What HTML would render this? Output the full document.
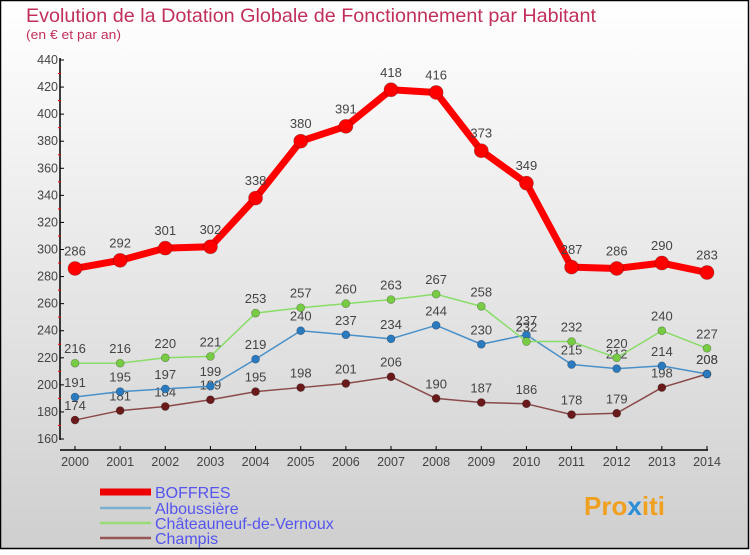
<!DOCTYPE html>
<html><head><meta charset="utf-8">
<style>
html,body{margin:0;padding:0;}
body{width:750px;height:550px;overflow:hidden;font-family:"Liberation Sans",sans-serif;}
</style></head>
<body>
<svg id="chart" width="750" height="550" xmlns="http://www.w3.org/2000/svg">
<defs>
<linearGradient id="bg" x1="0" y1="0" x2="0" y2="1">
<stop offset="0" stop-color="#ffffff"/><stop offset="1" stop-color="#cfcfcf"/>
</linearGradient>
</defs>
<rect x="0.5" y="0.5" width="748" height="548" fill="url(#bg)" stroke="#000" stroke-width="1.5"/>
<text x="26" y="22" font-size="19.5" fill="#c0305a" textLength="570" lengthAdjust="spacingAndGlyphs">Evolution de la Dotation Globale de Fonctionnement par Habitant</text>
<text x="26" y="39" font-size="12.5" fill="#c0305a" textLength="95" lengthAdjust="spacingAndGlyphs">(en € et par an)</text>
<g id="axes"></g>
<g id="series"></g>
<g id="legend"></g>
<text x="584" y="515" font-size="26" font-weight="bold" fill="#f0a020">Pro<tspan fill="#2a8fd8">x</tspan>iti</text>
</svg>
<script>
const years = [2000,2001,2002,2003,2004,2005,2006,2007,2008,2009,2010,2011,2012,2013,2014];
const yTicks = [160,180,200,220,240,260,280,300,320,340,360,380,400,420,440];
const boffres = [286,292,301,302,338,380,391,418,416,373,349,287,286,290,283];
const alboussiere = [191,195,197,199,219,240,237,234,244,230,237,215,212,214,208];
const chateauneuf = [216,216,220,221,253,257,260,263,267,258,232,232,220,240,227];
const champis = [174,181,184,189,195,198,201,206,190,187,186,178,179,198,208];
const seriesNames = ["BOFFRES","Alboussière","Châteauneuf-de-Vernoux","Champis"];

const NS="http://www.w3.org/2000/svg";
const x = i => 75 + i*(707-75)/(years.length-1);
const y = v => 439 - (v-160)*(439-60)/(440-160);
function mk(tag, attrs, parent){const e=document.createElementNS(NS,tag);for(const k in attrs)e.setAttribute(k,attrs[k]);parent.appendChild(e);return e;}
const axes=document.getElementById('axes');
const yAxis=mk('line',{x1:60,y1:58,x2:60,y2:440,stroke:'#000','stroke-width':1.5},axes);


yTicks.forEach((t,i)=>{
  mk('line',{x1:60,y1:y(t),x2:64,y2:y(t),stroke:'#000'},axes);
  if(i<yTicks.length-1) mk('line',{x1:58,y1:y(t+10),x2:61,y2:y(t+10),stroke:'#f00'},axes);
  const tx=mk('text',{x:58,y:y(t)+4,'font-size':12.5,fill:'#444','text-anchor':'end'},axes);
  tx.textContent=t;
  
  
});
const xAxis=mk('line',{x1:60,y1:450,x2:708,y2:450,stroke:'#000','stroke-width':1.5},axes);


years.forEach((yr,i)=>{
  mk('line',{x1:x(i),y1:446,x2:x(i),y2:450,stroke:'#000'},axes);
  const tx=mk('text',{x:x(i),y:466,'font-size':12.5,fill:'#444','text-anchor':'middle'},axes);
  tx.textContent=yr;
  
  
});
const sg=document.getElementById('series');
const defs=[
  {d:champis,c:'#8a4a4a',m:'#6a1a1a',w:1.5,r:4,key:'champis'},
  {d:alboussiere,c:'#4a90c8',m:'#2a7ac0',w:1.5,r:4,key:'alboussiere'},
  {d:chateauneuf,c:'#88dd66',m:'#77cc44',w:1.5,r:4,key:'chateauneuf'},
  {d:boffres,c:'#ff0000',m:'#ff0000',w:7,r:7,key:'boffres'}
];
defs.forEach(s=>{
  const g=mk('g',{},sg);
  
  
  const pl=mk('polyline',{points:s.d.map((v,i)=>x(i)+','+y(v)).join(' '),fill:'none',stroke:s.c,'stroke-width':s.w,'stroke-linejoin':'round'},g);
  
  
  s.d.forEach((v,i)=>{
    const c=mk('circle',{cx:x(i),cy:y(v),r:s.r,fill:s.m,stroke:'rgba(0,0,0,0.3)','stroke-width':0.7},g);
    
    
    const t=mk('text',{x:x(i),y:y(v)-(s.r+6),'font-size':13,fill:'#444','text-anchor':'middle'},g);
    t.textContent=v;
    
    
  });
});
const lg=document.getElementById('legend');
const legCols=['#ee0000','#7ab0d0','#99dd77','#995555'];
const legW=[7,2.5,2.5,2.5];
const legY=[492,508,523,538];
const legLen=[67,52,180,62];
seriesNames.forEach((n,i)=>{
  const g=mk('g',{},lg);
  
  
  mk('line',{x1:100,y1:legY[i],x2:151,y2:legY[i],stroke:legCols[i],'stroke-width':legW[i]},g);
  const t=mk('text',{x:155,y:legY[i]+6,'font-size':16,fill:'#5555ee'},g);
  t.textContent=n;
});
</script>
</body></html>
